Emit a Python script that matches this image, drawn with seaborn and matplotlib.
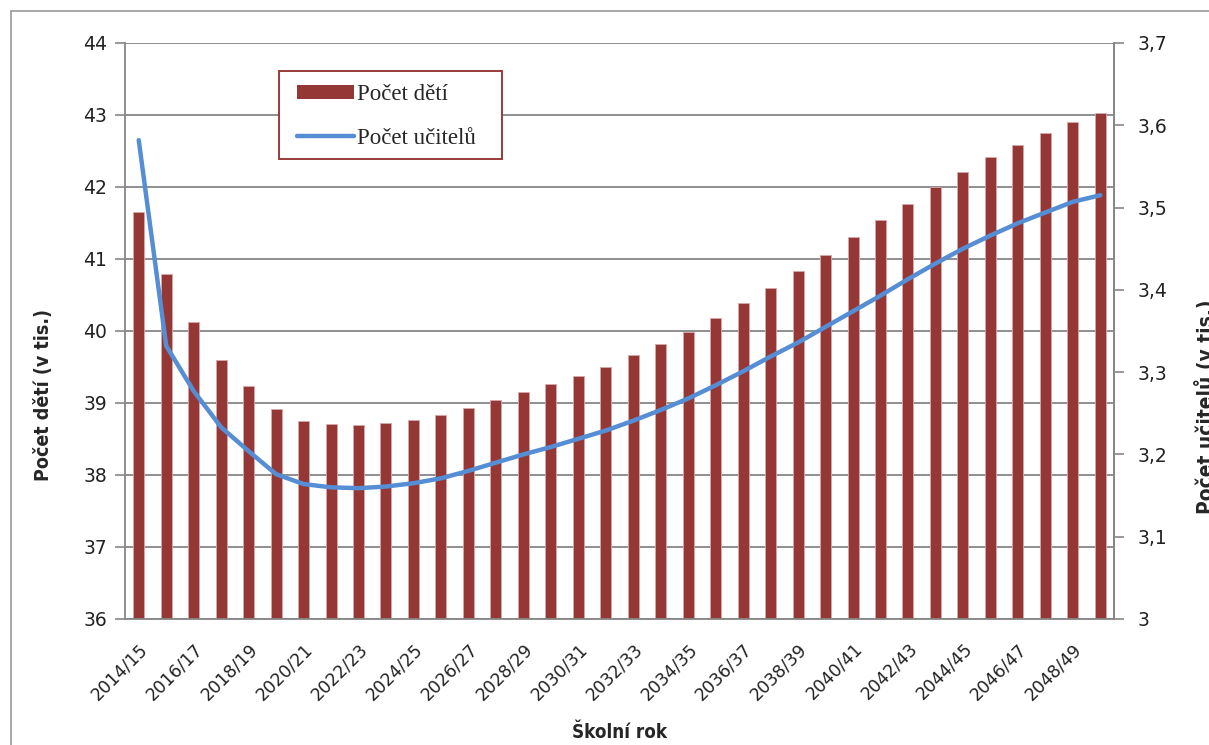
import pandas as pd
import seaborn as sb
from matplotlib import pyplot as plt
from matplotlib.patches import Patch, Rectangle
from matplotlib.lines import Line2D

# school years 2014/15 .. 2049/50
years = ["{}/{:02d}".format(y, (y + 1) % 100) for y in range(2014, 2050)]

# number of children (thousands), left axis
children = [41.65, 40.79, 40.12, 39.60, 39.24, 38.91, 38.75, 38.71, 38.69, 38.72,
            38.77, 38.84, 38.93, 39.04, 39.15, 39.26, 39.38, 39.50, 39.66, 39.82,
            39.99, 40.18, 40.39, 40.60, 40.83, 41.06, 41.30, 41.54, 41.77, 42.00,
            42.21, 42.41, 42.59, 42.75, 42.90, 43.03]

# number of teachers (thousands), right axis
teachers = [3.582, 3.332, 3.277, 3.233, 3.204, 3.176, 3.164, 3.160, 3.159, 3.161,
            3.165, 3.171, 3.180, 3.190, 3.200, 3.209, 3.219, 3.229, 3.241, 3.254,
            3.268, 3.284, 3.301, 3.319, 3.336, 3.355, 3.374, 3.393, 3.413, 3.432,
            3.450, 3.466, 3.481, 3.494, 3.507, 3.515]

left_ticks = [36, 37, 38, 39, 40, 41, 42, 43, 44]
right_ticks = [3.0, 3.1, 3.2, 3.3, 3.4, 3.5, 3.6, 3.7]
right_labels = ["3", "3,1", "3,2", "3,3", "3,4", "3,5", "3,6", "3,7"]

BAR_COLOR = "#953735"
LINE_COLOR = "#558ed5"
GRID_COLOR = "#868686"
W, H = 1209, 745

df = pd.DataFrame({"rok": years, "deti": children, "ucitele": teachers})

sb.set_style("white")
plt.rcParams["font.family"] = ["DejaVu Sans"]

fig = plt.figure(figsize=(W / 100, H / 100), dpi=100)
ax = fig.add_axes([125 / W, 126 / H, 989 / W, 576 / H])

sb.barplot(data=df, x="rok", y="deti", ax=ax, color=BAR_COLOR, width=0.4,
           edgecolor="#d8a9a8", linewidth=0.6, saturation=1)
ax.set_ylim(36, 44)
ax.set_xlim(-0.5, 35.5)
ax.set_yticks(left_ticks)
ax.set_yticklabels([str(t) for t in left_ticks], fontsize=13.5, color="#222222")
ax.yaxis.grid(True, color=GRID_COLOR, linewidth=1.3)
ax.set_axisbelow(True)

# category labels every other year, tick marks on category borders
ax.set_xticks(range(0, 36, 2))
ax.set_xticklabels(years[::2], rotation=45, ha="right", rotation_mode="anchor",
                   fontsize=12.5, color="#222222")
ax.set_xticks([i - 0.5 for i in range(37)], minor=True)
ax.tick_params(axis="x", which="major", length=0, pad=15)
ax.tick_params(axis="x", which="minor", length=6, width=1.2, color=GRID_COLOR, direction="out")
ax.tick_params(axis="y", length=7, width=1.2, color=GRID_COLOR, direction="out", pad=6)
ax.set_xlabel("")
ax.set_ylabel("")

for side in ["left", "bottom", "right"]:
    ax.spines[side].set_color(GRID_COLOR)
    ax.spines[side].set_linewidth(1.3)
ax.spines["top"].set_visible(False)

ax2 = ax.twinx()
sb.lineplot(data=df, x="rok", y="ucitele", ax=ax2, color=LINE_COLOR, linewidth=3.2,
            solid_capstyle="round")
ax2.set_ylim(3.0, 3.7)
ax2.set_yticks(right_ticks)
ax2.set_yticklabels(right_labels, fontsize=13.5, color="#222222")
ax2.tick_params(axis="y", length=7, width=1.2, color=GRID_COLOR, direction="out", pad=10)
ax2.set_ylabel("")
ax2.set_xlabel("")
for side in ["left", "top", "bottom"]:
    ax2.spines[side].set_visible(False)
ax2.spines["right"].set_color(GRID_COLOR)
ax2.spines["right"].set_linewidth(1.3)

# axis titles
fig.text(44 / W, 1 - 395 / H, "Počet dětí (v tis.)", rotation=90, ha="center", va="center",
         fontsize=14, fontweight="bold", fontstretch="condensed")
fig.text(1195 / W, 1 - 407 / H, "Počet učitelů (v tis.)", rotation=90, ha="left", va="center",
         fontsize=15, fontweight="bold", fontstretch="condensed")
fig.text(620 / W, 1 - 732 / H, "Školní rok", ha="center", va="center",
         fontsize=13.5, fontweight="bold", fontstretch="condensed")

# legend: frameless entries plus a separate box
handles = [Patch(facecolor=BAR_COLOR, edgecolor="none"),
           Line2D([0], [0], color=LINE_COLOR, linewidth=3.2, solid_capstyle="round")]
leg = ax2.legend(handles, ["Počet dětí", "Počet učitelů"], loc="upper left",
                 bbox_to_anchor=(297 / W, 1 - 84 / H), bbox_transform=fig.transFigure,
                 borderaxespad=0, borderpad=0, frameon=False, handlelength=2.5,
                 handleheight=0.6, handletextpad=0.1, labelspacing=1.0,
                 prop={"family": "Liberation Serif", "size": 16.5})
fig.add_artist(Rectangle((279 / W, 1 - 159 / H), 223 / W, 88 / H, transform=fig.transFigure,
                         facecolor="white", edgecolor="#9b3b38", linewidth=1.4, zorder=2))
leg.set_zorder(3)
fig.add_artist(leg)

# outer chart frame (left and top edges visible)
fig.add_artist(Line2D([11 / W, 11 / W], [0, 1 - 11 / H], color="#999999", linewidth=1.2))
fig.add_artist(Line2D([11 / W, 1], [1 - 11 / H, 1 - 11 / H], color="#999999", linewidth=1.2))

fig.savefig("out.png", dpi=100)
